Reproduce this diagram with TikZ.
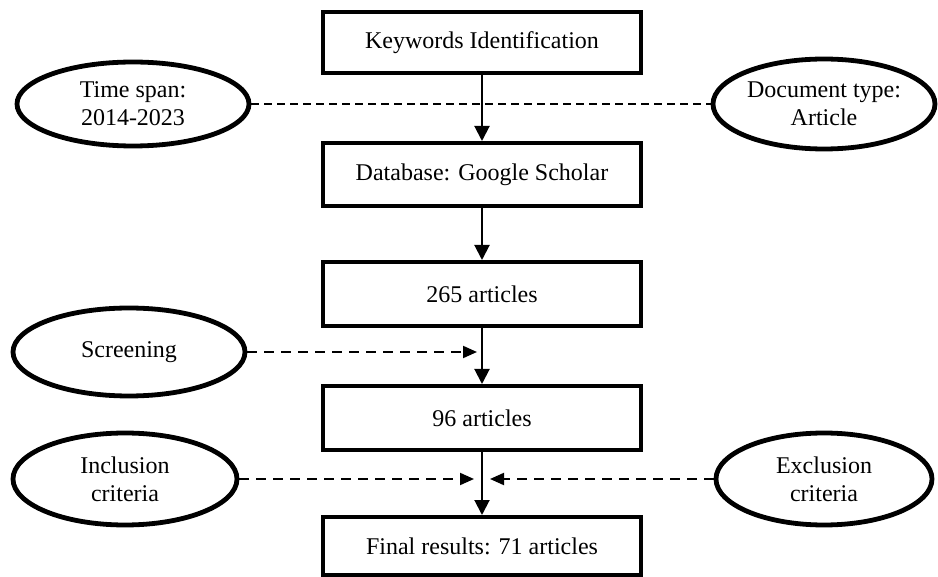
\documentclass[tikz,border=0pt]{standalone}
\usepackage{fontspec}
\setmainfont{Liberation Serif}
\usetikzlibrary{shapes.geometric,arrows.meta}
\begin{document}
\begin{tikzpicture}[x=0.5pt,y=-0.5pt,
  stepbox/.style={draw,line width=2pt,minimum width=159pt,inner sep=0pt,font=\fontsize{12}{14}\selectfont},
  oval/.style={draw,ellipse,line width=2.4pt,inner sep=0pt,align=center,font=\fontsize{12}{14}\selectfont},
  arr/.style={line width=1pt,-{Triangle[length=7.5pt,width=7.5pt]}},
  thindash/.style={line width=0.7pt,dash pattern=on 4pt off 2.5pt},
  darr/.style={line width=1pt,dash pattern=on 5pt off 3.5pt,-{Triangle[length=7pt,width=6pt]}}]
\useasboundingbox (0,0) rectangle (938,577);
% boxes
\node[stepbox,minimum height=30.5pt] (b1) at (482,42.5) {Keywords Identification};
\node[stepbox,minimum height=31.5pt] (b2) at (482,174.5) {Database: Google Scholar};
\node[stepbox,minimum height=32pt] (b3) at (482,294) {265 articles};
\node[stepbox,minimum height=32pt] (b4) at (482,418) {96 articles};
\node[stepbox,minimum height=29pt] (b5) at (482,546) {Final results: 71 articles};
% ellipses
\node[oval,minimum width=116pt,minimum height=42pt] (time) at (133,104) {Time span:\\2014-2023};
\node[oval,minimum width=111pt,minimum height=45pt] (doc) at (824,104) {Document type:\\Article};
\node[oval,minimum width=116pt,minimum height=44pt] (scr) at (129,352) {Screening};
\node[oval,minimum width=112pt,minimum height=46pt] (inc) at (125,479) {Inclusion\\criteria};
\node[oval,minimum width=108pt,minimum height=46pt] (exc) at (824,479) {Exclusion\\criteria};
% coordinates for arrow ends
\coordinate (s1) at (477,352);
\coordinate (i1) at (474,479);
\coordinate (e1) at (490,479);
% connectors
\draw[thindash] (time.east) -- (doc.west);
\draw[arr] (b1) -- (b2);
\draw[arr] (b2) -- (b3);
\draw[arr] (b3) -- (b4);
\draw[arr] (b4) -- (b5);
\draw[darr] (scr.east) -- (s1);
\draw[darr] (inc.east) -- (i1);
\draw[darr] (exc.west) -- (e1);
\end{tikzpicture}
\end{document}
